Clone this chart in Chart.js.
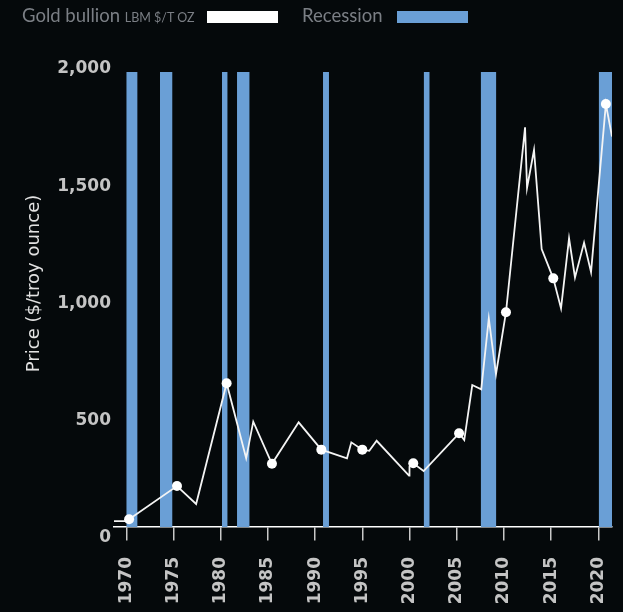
<!DOCTYPE html>
<html>
<head>
<meta charset="utf-8">
<script src="https://cdn.jsdelivr.net/npm/chart.js@4"></script>
<style>
  html, body { margin: 0; padding: 0; background: #05090b; }
  #wrap { position: relative; width: 623px; height: 612px; }
  .lg { position: absolute; top: 0; height: 30px; line-height: 30px; font-family: Lato, sans-serif; font-size: 18.5px; color: #7b7f85; white-space: nowrap; }
  .lg small { font-size: 12.5px; }
  .sw { position: absolute; top: 11px; width: 71px; height: 12px; }
</style>
</head>
<body>
<div id="wrap">
  <canvas id="chart"></canvas>
  <div class="lg" style="left:22px">Gold bullion <small>LBM $/T OZ</small></div>
  <div class="sw" style="left:207px;background:#ffffff"></div>
  <div class="lg" style="left:302px">Recession</div>
  <div class="sw" style="left:397px;background:#6a9fd6"></div>
</div>
<script>
const goldYears = [1968.7, 1970.0, 1970.3, 1975.37, 1977.4, 1980.63, 1982.7, 1983.45, 1985.43, 1988.26,
  1990.66, 1993.38, 1993.84, 1995.0, 1995.74, 1996.52, 1999.95, 2000.0, 2000.4, 2001.5,
  2005.25, 2005.8, 2006.65, 2007.6, 2008.4, 2009.16, 2010.22, 2012.24, 2012.45, 2013.19,
  2014.0, 2015.23, 2016.05, 2016.9, 2017.53, 2018.49, 2019.23, 2020.8, 2021.45];
const goldPrices = [26, 26, 34, 180, 101, 632, 302, 463, 278, 460,
  340, 302, 372, 340, 335, 379, 226, 265, 280, 246,
  412, 382, 624, 605, 917, 672, 944, 1757, 1491, 1657,
  1222, 1093, 961, 1269, 1097, 1250, 1120, 1859, 1716];

// points marqués (un tous les 5 ans)
const markerYears = [1970.3, 1975.37, 1980.63, 1985.43, 1990.66, 1995.0, 2000.4, 2005.25, 2010.22, 2015.23, 2020.8];
const markerPrices = [34, 180, 632, 278, 340, 340, 280, 412, 944, 1093, 1859];

// récessions (début / fin)
const recessionStart = [1970.0, 1973.57, 1980.14, 1981.73, 1990.84, 2001.5, 2007.54, 2020.04];
const recessionEnd = [1971.2, 1974.9, 1980.74, 1983.07, 1991.47, 2002.14, 2009.2, 2021.45];
const recessionTop = 2000;

const yearTicks = [1970, 1975, 1980, 1985, 1990, 1995, 2000, 2005, 2010, 2015, 2020];
const priceTicks = [0, 500, 1000, 1500, 2000];

const goldData = goldYears.map((x, i) => ({ x, y: goldPrices[i] }));
const markerData = markerYears.map((x, i) => ({ x, y: markerPrices[i] }));
const recessionData = [];
recessionStart.forEach((s, i) => {
  recessionData.push({ x: s, y: recessionTop }, { x: recessionEnd[i], y: recessionTop }, { x: recessionEnd[i], y: null });
});

new Chart(document.getElementById('chart'), {
  type: 'line',
  data: {
    datasets: [
      {
        label: 'markers',
        type: 'scatter',
        data: markerData,
        yAxisID: 'y',
        pointRadius: 5,
        pointBackgroundColor: '#ffffff',
        pointBorderWidth: 0,
        order: 0
      },
      {
        label: 'Gold bullion',
        data: goldData,
        yAxisID: 'y',
        borderColor: '#f4f4f4',
        borderWidth: 1.8,
        pointRadius: 0,
        tension: 0,
        order: 1
      },
      {
        label: 'Recession',
        data: recessionData,
        yAxisID: 'y',
        borderWidth: 0,
        borderColor: 'rgba(0,0,0,0)',
        backgroundColor: '#6a9fd6',
        fill: 'origin',
        spanGaps: false,
        pointRadius: 0,
        order: 2
      }
    ]
  },
  options: {
    responsive: true,
    maintainAspectRatio: false,
    animation: false,
    layout: { padding: { top: 69, bottom: 74, left: 0, right: 11 } },
    plugins: { legend: { display: false }, tooltip: { enabled: false } },
    scales: {
      x: {
        type: 'linear',
        min: 1968.7,
        max: 2021.45,
        position: { y: 0 },
        afterBuildTicks: s => { s.ticks = yearTicks.map(v => ({ value: v })); },
        // pas de marge latérale due aux étiquettes tournées
        afterFit: s => { s.paddingLeft = 0; s.paddingRight = 0; },
        grid: { drawOnChartArea: false, drawTicks: true, tickLength: 13, color: '#c8c8c8', lineWidth: 1.5 },
        border: { display: true, color: '#ffffff', width: 1.5 },
        ticks: {
          color: '#c4c4c4',
          font: { family: 'DejaVu Sans', size: 17, weight: 'bold' },
          minRotation: 90,
          maxRotation: 90,
          padding: 17,
          callback: v => String(v)
        }
      },
      y: {
        display: false,
        min: -48.35,
        max: 2013.2
      },
      yTicks: {
        position: 'left',
        min: 0,
        max: 2000,
        afterBuildTicks: s => { s.ticks = priceTicks.map(v => ({ value: v })); },
        afterFit: s => { s.width = 114; },
        grid: { display: false, drawTicks: false },
        border: { display: false },
        ticks: {
          color: '#c4c4c4',
          font: { family: 'DejaVu Sans', size: 17, weight: 'bold' },
          padding: 3
        },
        title: {
          display: true,
          // espaces en tête : le titre est un peu au-dessus du centre dans l'original
          text: '       Price ($/troy ounce)',
          color: '#e2e2e2',
          font: { family: 'DejaVu Sans', size: 18 },
          padding: { top: 24, bottom: 0 }
        }
      }
    }
  }
});
</script>
</body>
</html>
